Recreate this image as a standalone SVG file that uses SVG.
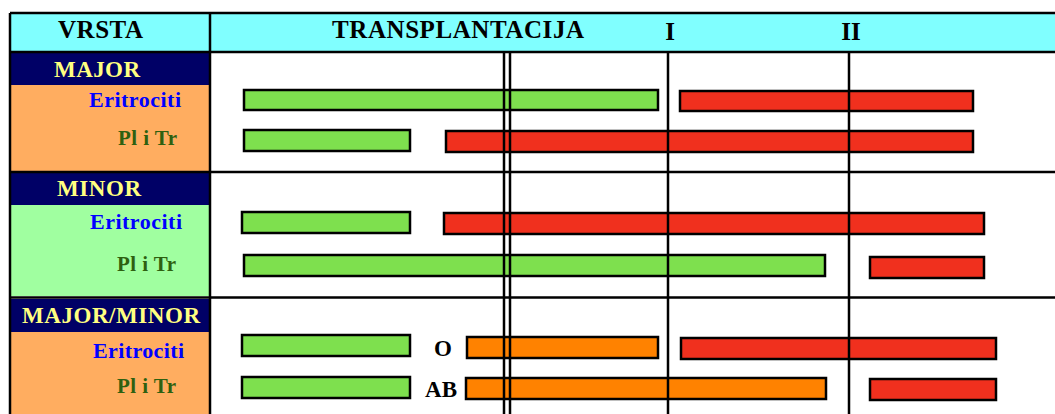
<svg xmlns="http://www.w3.org/2000/svg" width="1055" height="414" viewBox="0 0 1055 414">
  <style>
    .hdr { font-family: "Liberation Serif", "Times New Roman", serif; font-weight: bold; font-size: 25px; fill: #000; }
    .grp { font-family: "Liberation Serif", "Times New Roman", serif; font-weight: bold; font-size: 23px; fill: #FFFF80; }
    .ery { font-family: "Liberation Serif", "Times New Roman", serif; font-weight: bold; font-size: 22px; fill: #0000FF; }
    .plt { font-family: "Liberation Serif", "Times New Roman", serif; font-weight: bold; font-size: 21px; fill: #2E6010; }
    .mark { font-family: "Liberation Serif", "Times New Roman", serif; font-weight: bold; font-size: 23px; fill: #000; }
    .bar { stroke: #000; stroke-width: 2.5; }
    .g { fill: #7EE04E; }
    .r { fill: #F0301E; }
    .o { fill: #FF8200; }
    .rule { stroke: #000; stroke-width: 2.5; fill: none; }
  </style>

  <rect width="1055" height="414" fill="#FFFFFF"/>

  <!-- header row -->
  <g id="header">
    <rect x="10" y="13" width="1050" height="39" fill="#80FFFF"/>
    <text class="hdr" x="58" y="38" textLength="85" lengthAdjust="spacing">VRSTA</text>
    <text class="hdr" x="332" y="38" textLength="252" lengthAdjust="spacing">TRANSPLANTACIJA</text>
    <text class="hdr" x="670" y="40" text-anchor="middle">I</text>
    <text class="hdr" x="851" y="40" text-anchor="middle">II</text>
  </g>

  <!-- MAJOR -->
  <g id="major">
    <rect x="11" y="53" width="198" height="118" fill="#FFAD60"/>
    <rect x="11" y="53" width="198" height="32" fill="#000066"/>
    <text class="grp" x="54" y="77" textLength="86" lengthAdjust="spacing">MAJOR</text>
    <text class="ery" x="89" y="107" textLength="92" lengthAdjust="spacing">Eritrociti</text>
    <text class="plt" x="118" y="145" textLength="59" lengthAdjust="spacing">Pl i Tr</text>
  </g>

  <!-- MINOR -->
  <g id="minor">
    <rect x="11" y="173" width="198" height="123" fill="#A0FFA0"/>
    <rect x="11" y="173" width="198" height="32" fill="#000066"/>
    <text class="grp" x="57" y="196" textLength="84" lengthAdjust="spacing">MINOR</text>
    <text class="ery" x="90" y="229" textLength="92" lengthAdjust="spacing">Eritrociti</text>
    <text class="plt" x="117" y="271" textLength="59" lengthAdjust="spacing">Pl i Tr</text>
  </g>

  <!-- MAJOR/MINOR -->
  <g id="major-minor">
    <rect x="11" y="299" width="198" height="120" fill="#FFAD60"/>
    <rect x="11" y="299" width="198" height="33" fill="#000066"/>
    <text class="grp" x="22" y="323" textLength="178" lengthAdjust="spacing">MAJOR/MINOR</text>
    <text class="ery" x="93" y="358" textLength="91" lengthAdjust="spacing">Eritrociti</text>
    <text class="plt" x="117" y="393" textLength="59" lengthAdjust="spacing">Pl i Tr</text>
  </g>

  <!-- bars -->
  <g id="bars">
    <rect class="bar g" x="244" y="90" width="414" height="20"/>
    <rect class="bar r" x="680" y="91" width="293" height="20"/>
    <rect class="bar g" x="244" y="130" width="166" height="21"/>
    <rect class="bar r" x="446" y="131" width="527" height="21"/>

    <rect class="bar g" x="242" y="212" width="168" height="21"/>
    <rect class="bar r" x="444" y="213" width="540" height="21"/>
    <rect class="bar g" x="244" y="255" width="581" height="21"/>
    <rect class="bar r" x="870" y="257" width="114" height="21"/>

    <rect class="bar g" x="242" y="335" width="168" height="21"/>
    <rect class="bar o" x="467" y="337" width="191" height="21"/>
    <rect class="bar r" x="681" y="338" width="315" height="21"/>
    <rect class="bar g" x="242" y="377" width="168" height="21"/>
    <rect class="bar o" x="466" y="378" width="360" height="21"/>
    <rect class="bar r" x="870" y="379" width="126" height="21"/>

    <text class="mark" x="443" y="356" text-anchor="middle">O</text>
    <text class="mark" x="441" y="397" text-anchor="middle">AB</text>
  </g>

  <!-- grid lines -->
  <g id="grid">
    <path class="rule" d="M10 13 H1060 M10 52 H1060 M10 172 H1060 M10 297.5 H1060"/>
    <path class="rule" d="M10 13 V420 M210 13 V420"/>
    <path class="rule" d="M504 52 V420 M510 52 V420 M668 52 V420 M849 52 V420"/>
  </g>
</svg>
